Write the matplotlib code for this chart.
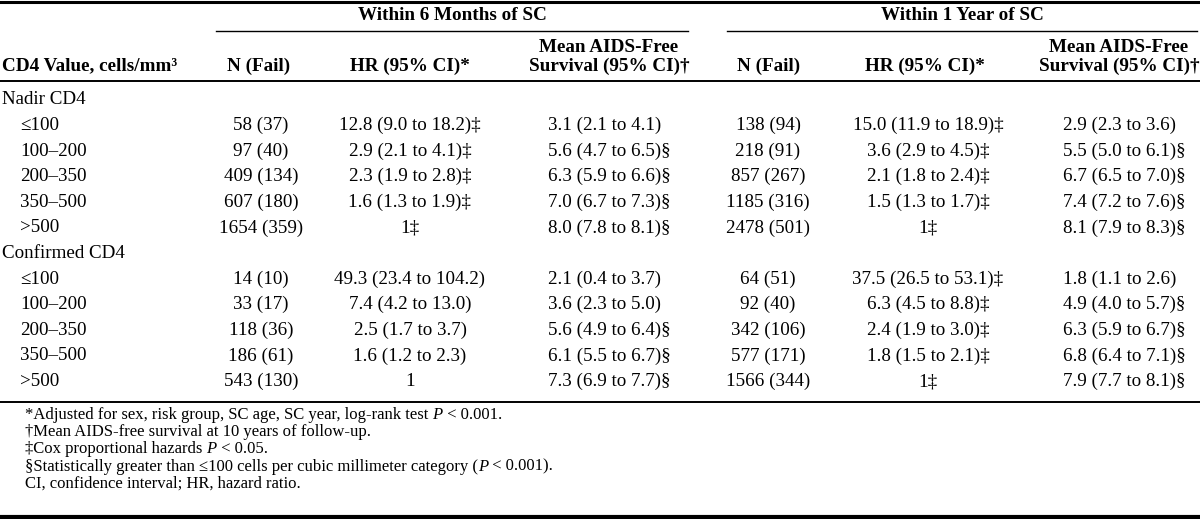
import matplotlib
matplotlib.use("Agg")
import matplotlib.pyplot as plt

plt.rcParams['font.family'] = ['Liberation Serif', 'DejaVu Serif']

# ---- table content ----
spanners = ["Within 6 Months of SC", "Within 1 Year of SC"]
col_headers = ["CD4 Value, cells/mm³", "N (Fail)", "HR (95% CI)*",
               "Mean AIDS-Free\nSurvival (95% CI)†",
               "N (Fail)", "HR (95% CI)*", "Mean AIDS-Free\nSurvival (95% CI)†"]
groups = ["Nadir CD4", "Confirmed CD4"]
categories = ["≤100", "100–200", "200–350", "350–500", ">500"]

nadir_n6 = ["58 (37)", "97 (40)", "409 (134)", "607 (180)", "1654 (359)"]
nadir_hr6 = ["12.8 (9.0 to 18.2)‡", "2.9 (2.1 to 4.1)‡", "2.3 (1.9 to 2.8)‡",
             "1.6 (1.3 to 1.9)‡", "1‡"]
nadir_surv6 = ["3.1 (2.1 to 4.1)", "5.6 (4.7 to 6.5)§", "6.3 (5.9 to 6.6)§",
               "7.0 (6.7 to 7.3)§", "8.0 (7.8 to 8.1)§"]
nadir_n12 = ["138 (94)", "218 (91)", "857 (267)", "1185 (316)", "2478 (501)"]
nadir_hr12 = ["15.0 (11.9 to 18.9)‡", "3.6 (2.9 to 4.5)‡", "2.1 (1.8 to 2.4)‡",
              "1.5 (1.3 to 1.7)‡", "1‡"]
nadir_surv12 = ["2.9 (2.3 to 3.6)", "5.5 (5.0 to 6.1)§", "6.7 (6.5 to 7.0)§",
                "7.4 (7.2 to 7.6)§", "8.1 (7.9 to 8.3)§"]

conf_n6 = ["14 (10)", "33 (17)", "118 (36)", "186 (61)", "543 (130)"]
conf_hr6 = ["49.3 (23.4 to 104.2)", "7.4 (4.2 to 13.0)", "2.5 (1.7 to 3.7)",
            "1.6 (1.2 to 2.3)", "1"]
conf_surv6 = ["2.1 (0.4 to 3.7)", "3.6 (2.3 to 5.0)", "5.6 (4.9 to 6.4)§",
              "6.1 (5.5 to 6.7)§", "7.3 (6.9 to 7.7)§"]
conf_n12 = ["64 (51)", "92 (40)", "342 (106)", "577 (171)", "1566 (344)"]
conf_hr12 = ["37.5 (26.5 to 53.1)‡", "6.3 (4.5 to 8.8)‡", "2.4 (1.9 to 3.0)‡",
             "1.8 (1.5 to 2.1)‡", "1‡"]
conf_surv12 = ["1.8 (1.1 to 2.6)", "4.9 (4.0 to 5.7)§", "6.3 (5.9 to 6.7)§",
               "6.8 (6.4 to 7.1)§", "7.9 (7.7 to 8.1)§"]

# footnotes as segments: (text, italic?)
footnotes = [
    [("*Adjusted for sex, risk group, SC age, SC year, log-rank test ", False),
     ("P", True), (" < 0.001.", False)],
    [("†Mean AIDS-free survival at 10 years of follow-up.", False)],
    [("‡Cox proportional hazards ", False), ("P", True), (" < 0.05.", False)],
    [("§Statistically greater than ≤100 cells per cubic millimeter category (", False),
     ("P", True), (" < 0.001).", False)],
    [("CI, confidence interval; HR, hazard ratio.", False)],
]

# ---- layout ----
W, H = 1200, 519
fig = plt.figure(figsize=(12, 5.19), dpi=100)
ax = fig.add_axes([0, 0, 1, 1])
ax.set_xlim(0, W)
ax.set_ylim(H, 0)
ax.axis('off')

FS = 13.7
FS_HDR = 13.8
FS_FOOT = 12.0

# horizontal rules
ax.plot([0, W], [1.5, 1.5], color='black', lw=2.2)
ax.plot([216, 688], [31, 31], color='black', lw=1.0)
ax.plot([727, 1197], [31, 31], color='black', lw=1.0)
ax.plot([0, W], [81, 81], color='black', lw=1.4)
ax.plot([0, W], [402, 402], color='black', lw=1.4)
ax.plot([0, W], [517, 517], color='black', lw=3.0)

# spanners
ax.text(452, 15, spanners[0], ha='center', va='center', fontsize=FS_HDR, fontweight='bold')
ax.text(962, 15, spanners[1], ha='center', va='center', fontsize=FS_HDR, fontweight='bold')

# column headers
hdr_y = 66
ax.text(2, hdr_y, col_headers[0], ha='left', va='center', fontsize=FS_HDR, fontweight='bold')
hdr_x = [259, 410, 609, 769, 925, 1119]
for x, lab in zip(hdr_x, col_headers[1:]):
    if "\n" in lab:
        l1, l2 = lab.split("\n")
        ax.text(x, 47, l1, ha='center', va='center', fontsize=FS_HDR, fontweight='bold')
        ax.text(x, hdr_y, l2, ha='center', va='center', fontsize=FS_HDR, fontweight='bold')
    else:
        ax.text(x, hdr_y, lab, ha='center', va='center', fontsize=FS_HDR, fontweight='bold')

# body rows
row0 = 100
dy = 25.6
blocks = [
    (groups[0], [nadir_n6, nadir_hr6, nadir_surv6, nadir_n12, nadir_hr12, nadir_surv12]),
    (groups[1], [conf_n6, conf_hr6, conf_surv6, conf_n12, conf_hr12, conf_surv12]),
]
col_pos = [(261, 'center'), (410, 'center'), (548, 'left'),
           (768, 'center'), (928, 'center'), (1063, 'left')]
r = 0
for gname, cols in blocks:
    y = row0 + r * dy
    ax.text(2, y, gname, ha='left', va='center', fontsize=FS)
    r += 1
    for i, cat in enumerate(categories):
        y = row0 + r * dy
        ax.text(20, y, cat, ha='left', va='center', fontsize=FS)
        for (x, ha), col in zip(col_pos, cols):
            ax.text(x, y, col[i], ha=ha, va='center', fontsize=FS)
        r += 1

# footnotes: consecutive segments on a common baseline
renderer = fig.canvas.get_renderer()
fy0 = 419
fdy = 17.2
for k, segs in enumerate(footnotes):
    x = 25
    y = fy0 + k * fdy
    for txt, ital in segs:
        t = ax.text(x, y, txt, ha='left', va='baseline', fontsize=FS_FOOT,
                    fontstyle='italic' if ital else 'normal')
        bb = t.get_window_extent(renderer=renderer)
        x = x + bb.width
fig.savefig("out.png", dpi=100)
